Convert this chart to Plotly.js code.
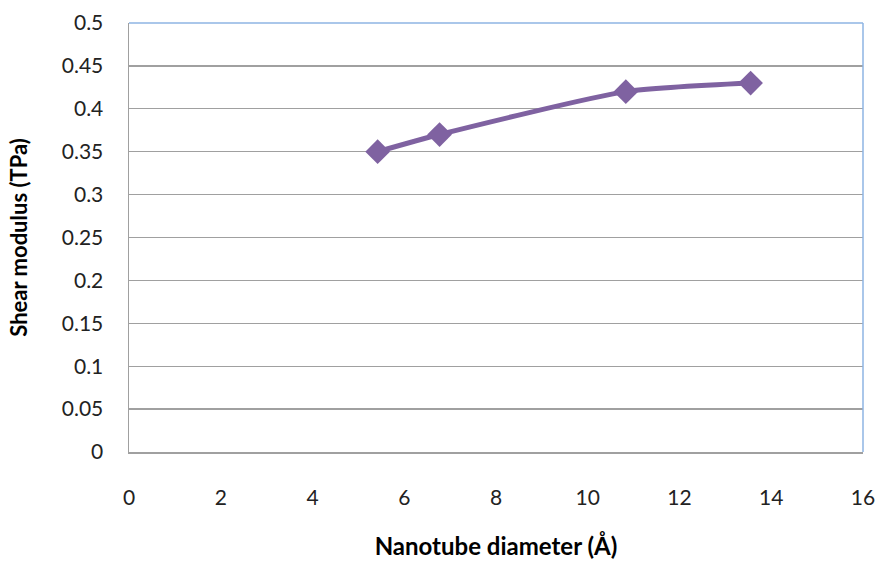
<!DOCTYPE html>
<html><head><meta charset="utf-8">
<script src="https://cdn.plot.ly/plotly-3.0.1.min.js"></script>
<style>html,body{margin:0;padding:0;background:#fff;}#chart{width:880px;height:561px;}</style>
</head><body><div id="chart"></div>
<script>
const diameter = [5.42, 6.77, 10.83, 13.55];
const shearModulus = [0.35, 0.37, 0.42, 0.43];
const xTicks = [0, 2, 4, 6, 8, 10, 12, 14, 16];
const yTicks = [0, 0.05, 0.1, 0.15, 0.2, 0.25, 0.3, 0.35, 0.4, 0.45, 0.5];

const font = "Lato, 'Open Sans', sans-serif";
Plotly.newPlot('chart', [{
  x: diameter, y: shearModulus, type: 'scatter', mode: 'lines+markers',
  line: {color: '#7F62A1', width: 5, shape: 'spline', smoothing: 0.6},
  marker: {symbol: 'diamond', size: 19, color: '#7F62A1'},
  hoverinfo: 'none'
}], {
  width: 880, height: 561,
  margin: {l: 129, r: 17, t: 23, b: 108.5},
  paper_bgcolor: '#fff', plot_bgcolor: '#fff',
  showlegend: false,
  font: {family: font, size: 21, color: '#000'},
  xaxis: {
    range: [0, 16], tickvals: xTicks, ticktext: xTicks.map(String),
    showgrid: false, zeroline: false, showline: true, linecolor: '#A0A0A0', linewidth: 1.5,
    ticks: '', ticklen: 0, ticklabelstandoff: 26, tickfont: {size: 21, family: font, color: '#222'},
    title: {text: '<b>Nanotube diameter (Å)</b>', font: {size: 24, family: font}, standoff: 30}
  },
  yaxis: {
    range: [0, 0.5], tickvals: yTicks, ticktext: yTicks.map(String),
    showgrid: true, gridcolor: '#A0A0A0', gridwidth: 1.3, zeroline: false,
    showline: true, linecolor: '#A0A0A0', linewidth: 1.5,
    ticks: '', ticklabelstandoff: 20, tickfont: {size: 21, family: font, color: '#222'},
    title: {text: '<b>Shear modulus (TPa)</b>', font: {size: 22, family: font}, standoff: 28}
  },
  shapes: [
    {type: 'line', xref: 'paper', yref: 'paper', x0: 0, x1: 1, y0: 1, y1: 1, line: {color: '#8EB4E3', width: 1.5}},
    {type: 'line', xref: 'paper', yref: 'paper', x0: 1, x1: 1, y0: 0, y1: 1, line: {color: '#8EB4E3', width: 1.5}}
  ]
}, {displayModeBar: false, staticPlot: true});
</script></body></html>
